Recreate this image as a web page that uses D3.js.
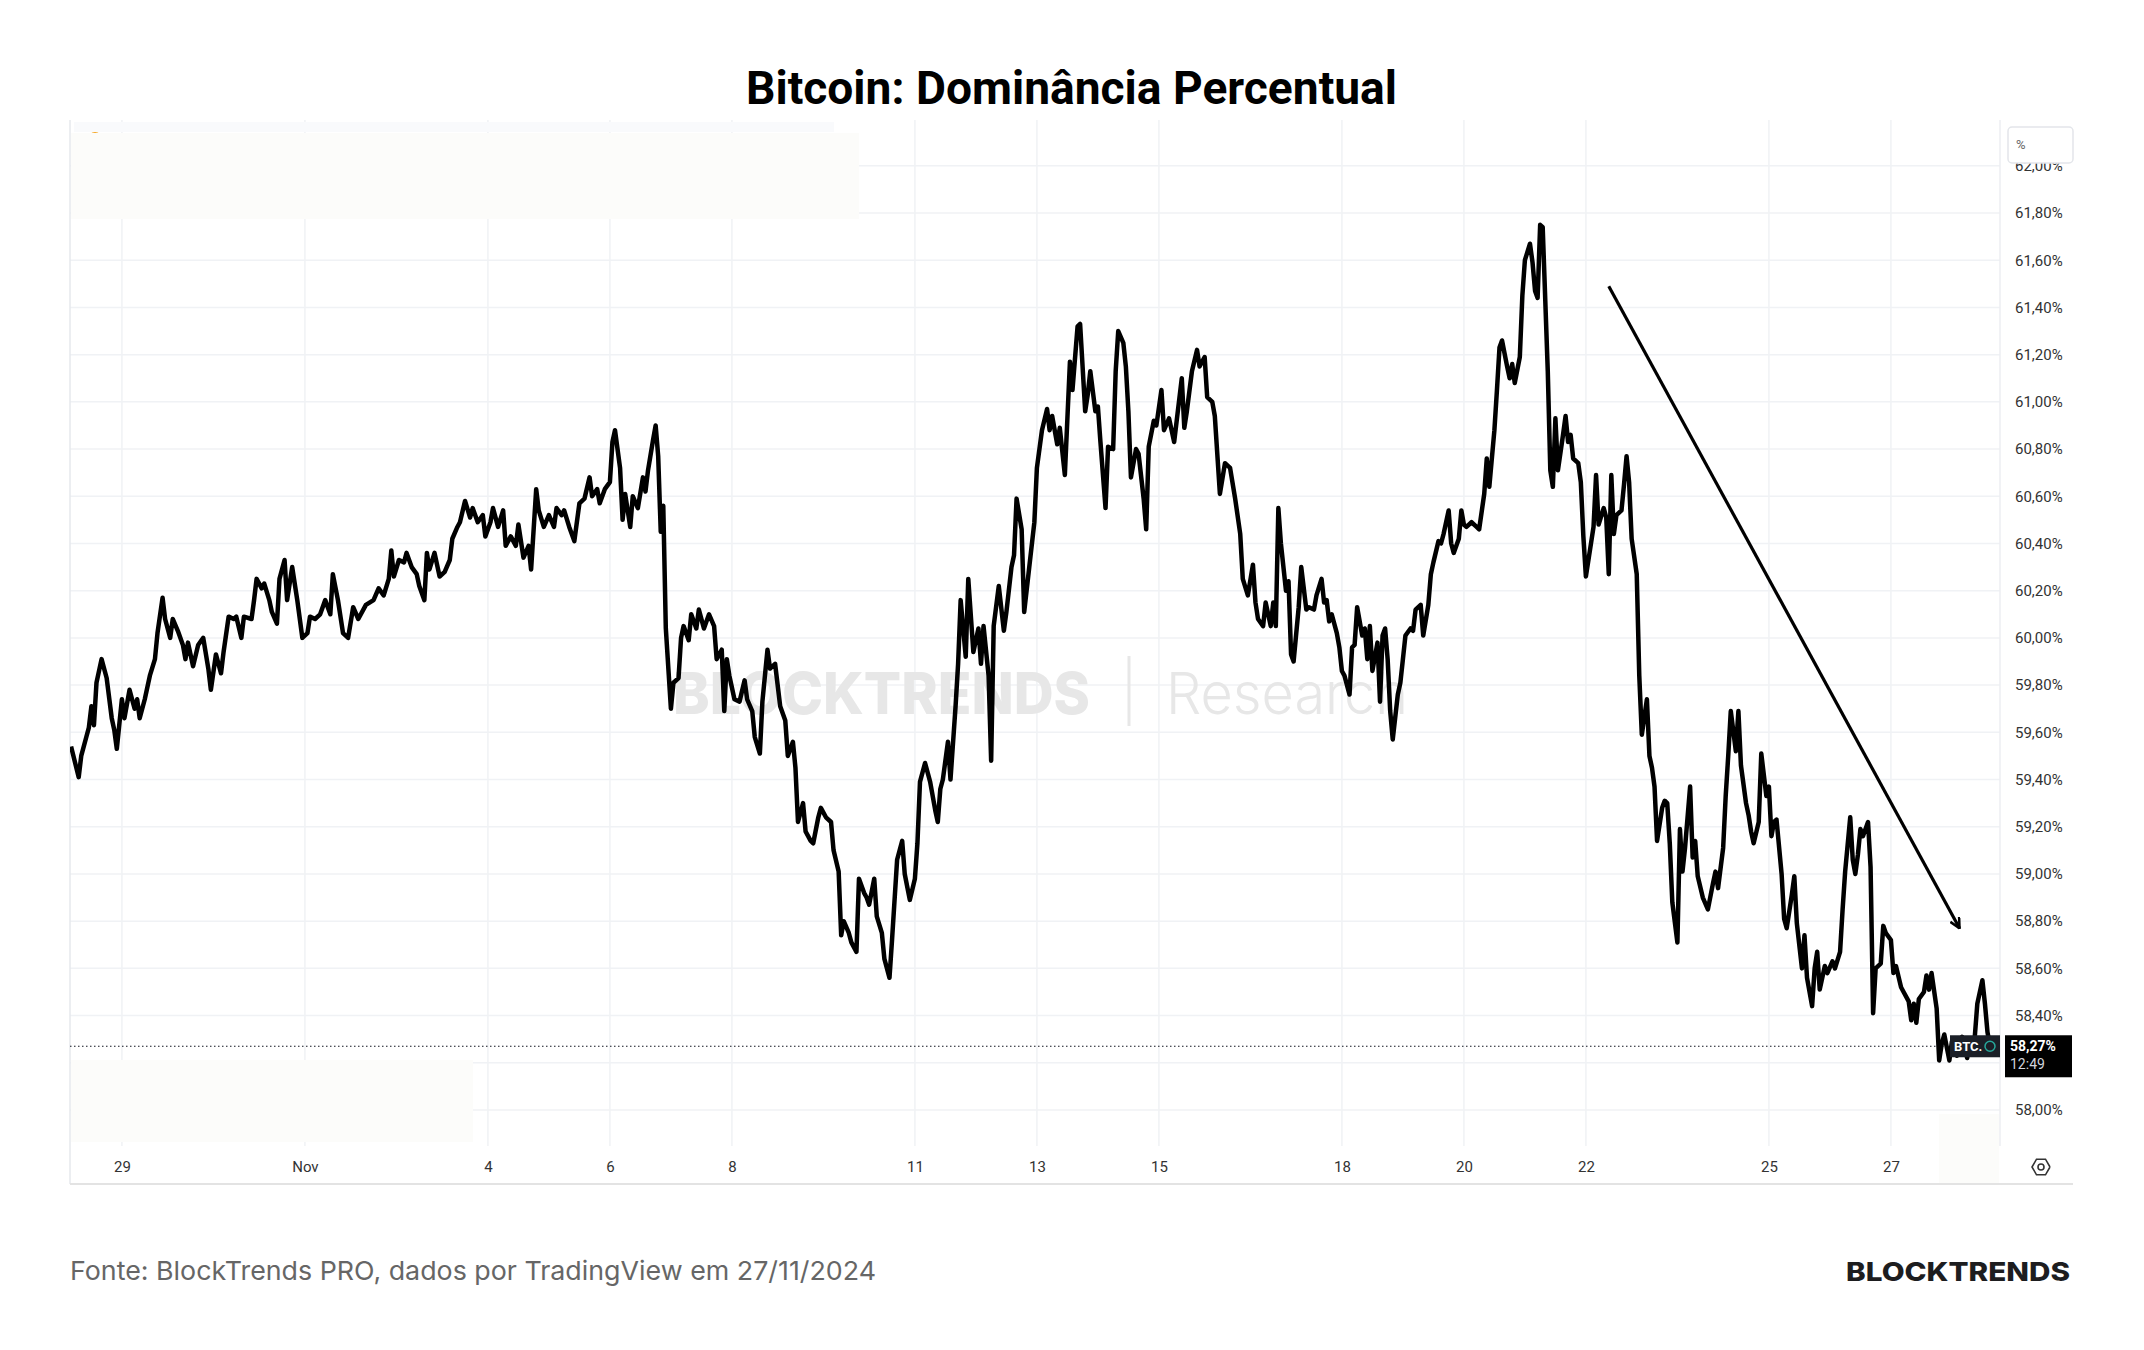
<!DOCTYPE html>
<html lang="pt-BR">
<head>
<meta charset="utf-8">
<title>Bitcoin: Dominância Percentual</title>
<script src="https://cdn.jsdelivr.net/npm/d3@7"></script>
<style>
  html, body { margin: 0; padding: 0; background: #fff; }
  svg { display: block; }
</style>
</head>
<body>
<div id="chart"></div>
<script>
const width = 2144, height = 1350;
const plot = { left: 70, right: 2000, top: 120, bottom: 1146 };
const axisRight = 2073, axisBottom = 1184;

// horas desde 28/10/2024 00:00 UTC
const horas = [4,7,8,10,11,12,13,14,16,18,20,21,22,24,25,27,29,30,31,33,35,37,38,40,41,43,44,46,48,49,50,52,54,56,58,59,61,63,64,66,68,69,71,72,75,76,77,79,80,82,83,85,86,88,89,91,93,95,97,98,100,102,104,106,107,109,111,113,115,117,120,123,125,127,129,130,131,133,135,136,138,140,141,143,144,145,147,149,151,153,154,156,157,159,161,162,164,166,167,169,170,172,174,175,177,179,180,182,184,185,187,188,190,192,194,195,197,198,200,202,204,206,208,209,211,212,214,216,217,218,220,221,222,224,225,227,229,230,231,233,234,235,236,237,238,240,241,243,244,245,247,248,250,251,253,255,257,258,260,261,262,263,265,267,269,270,272,273,275,276,278,279,281,283,285,286,288,289,290,292,293,295,296,298,299,301,303,304,306,307,308,310,311,313,314,316,317,318,320,321,323,324,326,327,329,331,332,334,336,337,338,340,342,344,345,346,347,349,350,352,353,354,356,357,359,361,362,363,365,366,367,369,371,372,374,375,376,378,379,381,383,384,386,388,389,390,392,393,395,397,398,400,401,403,404,405,407,408,409,411,412,414,415,416,418,419,420,421,423,424,426,427,428,430,431,433,434,436,438,439,441,442,443,445,447,448,450,451,453,454,456,458,460,462,464,465,467,469,470,471,473,474,476,477,478,479,480,482,483,484,485,487,488,490,491,493,494,496,497,498,499,500,502,503,504,505,507,508,509,510,512,513,514,515,516,518,519,520,521,522,523,524,526,527,528,529,531,532,533,535,536,538,539,540,542,543,544,546,547,548,550,551,552,553,555,557,558,560,561,562,564,565,566,567,569,570,571,572,574,575,576,578,579,580,581,582,583,585,586,587,588,589,591,592,593,594,595,597,598,599,600,602,603,604,605,607,608,609,610,611,612,614,615,616,617,618,620,621,622,624,625,626,627,628,630,631,632,633,634,636,637,638,639,641,642,643,644,646,648,650,651,652,654,655,656,657,659,660,661,663,664,665,666,668,669,671,672,673,674,675,677,678,679,681,682,683,685,686,687,689,690,691,692,694,695,697,698,700,701,702,704,705,706,707,708,709,711,712,713,714,716,717,718,720,721,722,724,725,727,728,729,730,731,733,734,735,736,738,739,740,741,743,744,746,747,748,750,751,753,754,756,757,758,759];

// dominância do BTC (%)
const dominancia = [59.54,59.41,59.50,59.58,59.62,59.71,59.63,59.81,59.91,59.83,59.66,59.61,59.53,59.74,59.66,59.78,59.70,59.74,59.66,59.74,59.84,59.91,60.02,60.17,60.08,60.00,60.08,60.03,59.97,59.91,59.98,59.88,59.97,60.00,59.87,59.78,59.93,59.85,59.94,60.09,60.08,60.09,60.00,60.09,60.08,60.16,60.25,60.21,60.23,60.16,60.11,60.06,60.25,60.33,60.16,60.30,60.16,60.00,60.02,60.09,60.08,60.10,60.16,60.10,60.27,60.16,60.02,60.00,60.13,60.08,60.14,60.16,60.21,60.18,60.25,60.37,60.26,60.33,60.32,60.36,60.30,60.27,60.22,60.16,60.36,60.29,60.36,60.26,60.28,60.33,60.42,60.47,60.49,60.58,60.51,60.55,60.49,60.52,60.43,60.49,60.55,60.47,60.54,60.39,60.43,60.39,60.48,60.34,60.39,60.29,60.63,60.54,60.47,60.52,60.47,60.55,60.52,60.54,60.47,60.41,60.57,60.59,60.68,60.60,60.63,60.57,60.63,60.66,60.83,60.88,60.72,60.50,60.61,60.47,60.60,60.55,60.68,60.62,60.71,60.84,60.90,60.77,60.45,60.56,60.04,59.70,59.81,59.83,60.00,60.05,59.99,60.10,60.04,60.12,60.04,60.10,60.05,59.91,59.95,59.69,59.91,59.84,59.74,59.73,59.82,59.74,59.69,59.58,59.51,59.73,59.95,59.87,59.89,59.71,59.65,59.50,59.56,59.45,59.22,59.30,59.18,59.14,59.13,59.24,59.28,59.24,59.22,59.10,59.01,58.74,58.80,58.75,58.71,58.67,58.98,58.92,58.90,58.87,58.98,58.82,58.75,58.64,58.56,58.72,59.06,59.14,59.00,58.89,58.98,59.13,59.39,59.47,59.39,59.27,59.22,59.36,59.40,59.56,59.40,59.71,59.89,60.16,59.92,60.25,59.94,60.04,59.89,60.05,59.84,59.48,60.05,60.22,60.03,60.11,60.30,60.35,60.59,60.46,60.11,60.30,60.49,60.72,60.88,60.97,60.88,60.94,60.82,60.89,60.69,61.17,61.05,61.32,61.33,60.96,61.03,61.13,60.96,60.98,60.83,60.55,60.81,60.80,61.13,61.30,61.25,61.15,60.96,60.68,60.80,60.78,60.59,60.46,60.81,60.92,60.90,61.05,60.88,60.93,60.83,60.92,61.10,60.89,60.96,61.13,61.22,61.15,61.19,61.02,61.00,60.94,60.61,60.74,60.72,60.59,60.44,60.25,60.18,60.31,60.15,60.08,60.05,60.15,60.05,60.15,60.05,60.55,60.40,60.20,60.24,59.93,59.90,60.13,60.30,60.12,60.13,60.12,60.18,60.25,60.15,60.16,60.07,60.10,60.02,59.96,59.86,59.84,59.76,59.96,59.97,60.13,60.01,60.04,59.91,60.05,59.86,59.98,59.73,60.01,60.04,59.91,59.69,59.57,59.76,59.81,59.91,60.01,60.04,60.03,60.12,60.14,60.01,60.14,60.27,60.32,60.41,60.40,60.44,60.54,60.40,60.36,60.42,60.54,60.48,60.47,60.49,60.47,60.46,60.61,60.76,60.64,60.88,61.05,61.23,61.26,61.15,61.10,61.16,61.08,61.19,61.45,61.60,61.67,61.59,61.47,61.44,61.75,61.74,61.13,60.71,60.64,60.93,60.71,60.86,60.94,60.83,60.86,60.76,60.74,60.66,60.43,60.26,60.40,60.47,60.69,60.48,60.55,60.51,60.27,60.69,60.44,60.52,60.54,60.65,60.77,60.66,60.42,60.27,59.84,59.59,59.74,59.50,59.45,59.37,59.14,59.28,59.31,59.30,59.13,58.88,58.71,59.19,59.01,59.11,59.37,59.07,59.14,58.99,58.90,58.85,58.96,59.01,58.94,59.11,59.33,59.50,59.69,59.52,59.69,59.46,59.30,59.25,59.18,59.13,59.22,59.51,59.33,59.37,59.16,59.22,59.23,59.00,58.81,58.77,58.91,58.99,58.79,58.60,58.74,58.56,58.44,58.60,58.67,58.51,58.61,58.58,58.63,58.60,58.67,58.85,59.01,59.24,59.06,59.00,59.08,59.19,59.16,59.22,59.03,58.41,58.60,58.62,58.78,58.75,58.72,58.58,58.61,58.52,58.50,58.46,58.38,58.45,58.37,58.47,58.50,58.57,58.51,58.58,58.43,58.21,58.28,58.32,58.21,58.29,58.23,58.28,58.31,58.22,58.28,58.31,58.45,58.55,58.45,58.33,58.27];

const ticksX = ["2024-10-29", "2024-11-01", "2024-11-04", "2024-11-06", "2024-11-08", "2024-11-11", "2024-11-13",
                "2024-11-15", "2024-11-18", "2024-11-20", "2024-11-22", "2024-11-25", "2024-11-27"];
const labelsX = ["29", "Nov", "4", "6", "8", "11", "13", "15", "18", "20", "22", "25", "27"];
const ticksY = [58.0, 58.2, 58.4, 58.6, 58.8, 59.0, 59.2, 59.4, 59.6, 59.8, 60.0, 60.2, 60.4, 60.6, 60.8, 61.0, 61.2, 61.4, 61.6, 61.8, 62.0];

const precoAtual = 58.27;
const horaVela = "12:49";
// seta de tendência (horas, %)
const setaHoras = [609, 747];
const setaValores = [61.49, 58.77];

const inicio = Date.UTC(2024, 9, 28);
const data = horas.map((h, i) => ({ t: d3.utcHour.offset(new Date(inicio), h), v: dominancia[i] }));

const svg = d3.select("#chart")
  .append("svg")
  .attr("width", width)
  .attr("height", height)
  .style("background", "#fff");

const x = d3.scaleUtc()
  .domain([new Date("2024-10-29T00:00:00Z"), new Date("2024-11-27T00:00:00Z")])
  .range([121.9, 1890.9]);

const y = d3.scaleLinear()
  .domain([58, 61.8])
  .range([1110, 213]);

const fmt = d3.formatLocale({ decimal: ",", thousands: ".", grouping: [3], currency: ["", ""] }).format(".2f");

// grade
svg.append("g")
  .selectAll("line")
  .data(ticksY.filter(d => y(d) > plot.top && y(d) < plot.bottom))
  .join("line")
  .attr("x1", plot.left).attr("x2", plot.right)
  .attr("y1", d => y(d)).attr("y2", d => y(d))
  .attr("stroke", "#f0f2f5").attr("stroke-width", 1.5);

svg.append("g")
  .selectAll("line")
  .data(ticksX)
  .join("line")
  .attr("x1", d => x(new Date(d + "T00:00:00Z"))).attr("x2", d => x(new Date(d + "T00:00:00Z")))
  .attr("y1", plot.top).attr("y2", plot.bottom)
  .attr("stroke", "#f0f2f5").attr("stroke-width", 1.5);

// marca d'água
const wm = svg.append("g").attr("fill", "#e7e7e7");
wm.append("text")
  .attr("x", 673).attr("y", 714)
  .attr("font-family", "Inter, 'Noto Sans', sans-serif")
  .attr("font-weight", 800).attr("font-size", 58)
  .attr("textLength", 417).attr("lengthAdjust", "spacingAndGlyphs")
  .text("BLOCKTRENDS");
wm.append("rect").attr("x", 1127.5).attr("y", 656).attr("width", 3).attr("height", 70);
wm.append("text")
  .attr("x", 1166).attr("y", 714)
  .attr("font-family", "Inter, 'Noto Sans', sans-serif")
  .attr("font-weight", 300).attr("font-size", 58)
  .attr("textLength", 242).attr("lengthAdjust", "spacingAndGlyphs")
  .text("Research");

// áreas apagadas do print original
svg.append("circle").attr("cx", 95).attr("cy", 139).attr("r", 7).attr("fill", "#f5a623");
svg.append("rect").attr("x", 74).attr("y", 122).attr("width", 760).attr("height", 10).attr("fill", "#f9fafc");
svg.append("rect").attr("x", plot.left + 1).attr("y", 133).attr("width", 788).attr("height", 86).attr("fill", "#fcfcfa");
svg.append("rect").attr("x", plot.left + 1).attr("y", 1060).attr("width", 402).attr("height", 82).attr("fill", "#fcfcfa");
svg.append("rect").attr("x", 1939).attr("y", 1114).attr("width", 60).attr("height", 69).attr("fill", "#fcfcfa");

// bordas do gráfico
svg.append("line").attr("x1", plot.left).attr("x2", plot.left).attr("y1", plot.top).attr("y2", axisBottom)
  .attr("stroke", "#e6e8ec").attr("stroke-width", 1.5);
svg.append("line").attr("x1", plot.right).attr("x2", plot.right).attr("y1", plot.top).attr("y2", plot.bottom)
  .attr("stroke", "#eceef2").attr("stroke-width", 1.5);
svg.append("line").attr("x1", plot.left).attr("x2", axisRight).attr("y1", axisBottom).attr("y2", axisBottom)
  .attr("stroke", "#e3e3e3").attr("stroke-width", 2);

// linha do preço atual
svg.append("line")
  .attr("x1", plot.left).attr("x2", 1950)
  .attr("y1", y(precoAtual)).attr("y2", y(precoAtual))
  .attr("stroke", "#131722").attr("stroke-width", 1.2)
  .attr("stroke-dasharray", "1.5,2.5");

// série
svg.append("clipPath").attr("id", "clip")
  .append("rect").attr("x", plot.left).attr("y", plot.top)
  .attr("width", plot.right - plot.left).attr("height", plot.bottom - plot.top);

const line = d3.line()
  .x(d => x(d.t))
  .y(d => y(d.v));

svg.append("path")
  .datum(data)
  .attr("clip-path", "url(#clip)")
  .attr("fill", "none")
  .attr("stroke", "#000")
  .attr("stroke-width", 4.5)
  .attr("stroke-linejoin", "round")
  .attr("d", line);

// seta
svg.append("defs").append("marker")
  .attr("id", "ponta")
  .attr("viewBox", "0 0 12 12")
  .attr("refX", 11).attr("refY", 6)
  .attr("markerWidth", 12).attr("markerHeight", 12)
  .attr("markerUnits", "userSpaceOnUse")
  .attr("orient", "auto")
  .append("path")
  .attr("d", "M1,1 L11,6 L1,11")
  .attr("fill", "none").attr("stroke", "#000").attr("stroke-width", 2.5);

svg.append("line")
  .attr("x1", x(d3.utcHour.offset(new Date(inicio), setaHoras[0]))).attr("y1", y(setaValores[0]))
  .attr("x2", x(d3.utcHour.offset(new Date(inicio), setaHoras[1]))).attr("y2", y(setaValores[1]))
  .attr("stroke", "#000").attr("stroke-width", 3.2)
  .attr("marker-end", "url(#ponta)");

// eixo Y (direita) - o rótulo escondido pela etiqueta de preço não é mostrado
svg.append("g")
  .attr("transform", `translate(${plot.right},0)`)
  .call(d3.axisRight(y)
    .tickValues(ticksY.filter(d => Math.abs(y(d) - y(precoAtual)) > 24))
    .tickSize(0).tickPadding(15).tickFormat(d => fmt(d) + "%"))
  .call(g => g.select(".domain").remove())
  .attr("font-family", "Roboto, 'Liberation Sans', sans-serif")
  .attr("font-size", 15)
  .call(g => g.selectAll("text").attr("fill", "#333"));

// caixa "%"
svg.append("rect")
  .attr("x", 2008).attr("y", 127).attr("width", 65).attr("height", 36).attr("rx", 4)
  .attr("fill", "#fff").attr("stroke", "#e3e5ea").attr("stroke-width", 1.5);
svg.append("text")
  .attr("x", 2016).attr("y", 149)
  .attr("font-family", "Roboto, sans-serif").attr("font-size", 13).attr("fill", "#666")
  .text("%");

// eixo X
svg.append("g")
  .attr("transform", `translate(0,${plot.bottom + 12})`)
  .call(d3.axisBottom(x)
    .tickValues(ticksX.map(d => new Date(d + "T00:00:00Z")))
    .tickSize(0).tickPadding(3)
    .tickFormat((d, i) => labelsX[i]))
  .call(g => g.select(".domain").remove())
  .attr("font-family", "Roboto, 'Liberation Sans', sans-serif")
  .attr("font-size", 15)
  .call(g => g.selectAll("text").attr("fill", "#333"));

// ícone de configurações
const gear = svg.append("g").attr("transform", "translate(2041,1167)")
  .attr("fill", "none").attr("stroke", "#333").attr("stroke-width", 1.6);
gear.append("path")
  .attr("d", d3.line()(d3.range(7).map(i => [9 * Math.cos(i * Math.PI / 3), 9 * Math.sin(i * Math.PI / 3)])));
gear.append("circle").attr("r", 3);

// rótulo BTC
svg.append("rect")
  .attr("x", 1950).attr("y", y(precoAtual) - 11).attr("width", 50).attr("height", 22)
  .attr("fill", "#1b1f27");
svg.append("text")
  .attr("x", 1954).attr("y", y(precoAtual) + 5)
  .attr("font-family", "Roboto, sans-serif").attr("font-weight", 700).attr("font-size", 13)
  .attr("fill", "#fff").text("BTC.");
svg.append("circle")
  .attr("cx", 1990).attr("cy", y(precoAtual)).attr("r", 5)
  .attr("fill", "none").attr("stroke", "#26a69a").attr("stroke-width", 1.5);

// rótulo do preço atual
svg.append("rect")
  .attr("x", 2005).attr("y", y(precoAtual) - 11).attr("width", 67).attr("height", 42)
  .attr("fill", "#000");
svg.append("text")
  .attr("x", 2010).attr("y", y(precoAtual) + 5)
  .attr("font-family", "Roboto, sans-serif").attr("font-weight", 700).attr("font-size", 14)
  .attr("fill", "#fff").text(fmt(precoAtual) + "%");
svg.append("text")
  .attr("x", 2010).attr("y", y(precoAtual) + 23)
  .attr("font-family", "Roboto, sans-serif").attr("font-size", 14)
  .attr("fill", "#d1d4dc").text(horaVela);

// título
svg.append("text")
  .attr("x", 1071.5).attr("y", 104)
  .attr("text-anchor", "middle")
  .attr("font-family", "Roboto, 'Liberation Sans', sans-serif")
  .attr("font-weight", 700).attr("font-size", 46)
  .attr("textLength", 651).attr("lengthAdjust", "spacingAndGlyphs")
  .attr("fill", "#000")
  .text("Bitcoin: Dominância Percentual");

// rodapé
svg.append("text")
  .attr("x", 70).attr("y", 1280)
  .attr("font-family", "Inter, 'Noto Sans', sans-serif")
  .attr("font-size", 26)
  .attr("textLength", 806).attr("lengthAdjust", "spacingAndGlyphs")
  .attr("fill", "#666")
  .text("Fonte: BlockTrends PRO, dados por TradingView em 27/11/2024");

svg.append("text")
  .attr("x", 1846).attr("y", 1281)
  .attr("font-family", "Inter, 'Noto Sans', sans-serif")
  .attr("font-weight", 800).attr("font-size", 26)
  .attr("textLength", 224).attr("lengthAdjust", "spacingAndGlyphs")
  .attr("fill", "#1d1d1f")
  .text("BLOCKTRENDS");
</script>
</body>
</html>
